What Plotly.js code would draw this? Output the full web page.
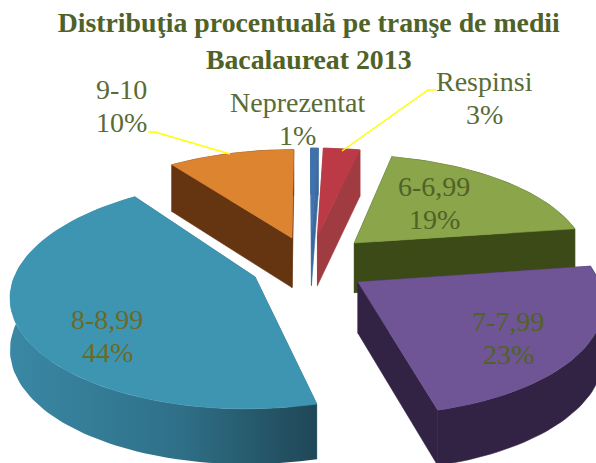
<!DOCTYPE html>
<html>
<head>
<meta charset="utf-8">
<script src="https://cdn.plot.ly/plotly-3.0.1.min.js"></script>
<style>html,body{margin:0;padding:0;background:#fff}#c{width:596px;height:463px}</style>
</head>
<body>
<div id="c"></div>
<script>
// Data, clockwise from 12 o'clock
var categories = ['Neprezentat', 'Respinsi', '6-6,99', '7-7,99', '8-8,99', '9-10'];
var values = [0.6, 2.9, 19.2, 23.3, 44.0, 10.0];
var titleText = 'Distribuţia procentuală pe tranşe de medii<br>Bacalaureat 2013';

// Styles
var topColors = ['#3f72ab', '#bb3a46', '#8aa54a', '#6f5595', '#3e95b1', '#dd8430'];
var wallColors = ['#3a6a9f', '#a03b42', '#3c4a18', '#322344', '#2c6a82', '#653411'];
var labelColors = ['#5a6b35', '#5a6b35', '#4f6228', '#4f6228', '#6b6a28', '#5a6b35'];

// Projection of the tilted disc
var cx = 305, cy = 250, Rx = 235.5, Ry = 105, k = 0.15, depth = 50;
// Wedge apex after explosion and wedge radius, disc units
var pullU = [0.028, 0.054, 0.2116, 0.215, -0.204, -0.056];
var pullV = [0.136, 0.136, 0.0674, -0.2917, -0.248, 0.116];
var radius = [1, 1, 0.98, 0.98, 0.985, 1];
var labelX = [297, 484, 434, 508, 107, 121];
var labelY = [119, 98, 203, 338, 336, 106];
var lineGap = 16.5;
var drawOrder = [5, 0, 1, 2, 3, 4];

function project(u, v, drop) {
  var p = 1 / (1 + k * v);
  return [cx + Rx * u * p, cy - Ry * v * p + (drop ? depth * Math.sqrt(p) : 0)];
}
var total = values.reduce(function (a, b) { return a + b; }, 0);
var angles = [0];
values.forEach(function (v, i) { angles.push(angles[i] + v / total * 2 * Math.PI); });

function arc(i, drop) {
  var pts = [], n = Math.max(4, Math.ceil((angles[i + 1] - angles[i]) / 0.03));
  for (var j = 0; j <= n; j++) {
    var t = angles[i] + (angles[i + 1] - angles[i]) * j / n;
    pts.push(project(pullU[i] + radius[i] * Math.sin(t), pullV[i] + radius[i] * Math.cos(t), drop));
  }
  return pts;
}
function poly(pts, color, name, extra) {
  var t = {
    type: 'scatter', mode: 'lines', name: name, hoverinfo: 'skip', showlegend: false,
    x: pts.map(function (q) { return q[0]; }).concat([pts[0][0]]),
    y: pts.map(function (q) { return q[1]; }).concat([pts[0][1]]),
    fill: 'toself', fillcolor: color, line: { color: color, width: 0.6 }
  };
  return Object.assign(t, extra || {});
}
var traces = [];
drawOrder.forEach(function (i) {
  var top = arc(i, false), bot = arc(i, true);
  var a0 = project(pullU[i], pullV[i], false), a1 = project(pullU[i], pullV[i], true);
  var last = top.length - 1;
  traces.push(poly([a0, top[0], bot[0], a1], wallColors[i], categories[i] + ' side'));
  traces.push(poly([a0, top[last], bot[last], a1], wallColors[i], categories[i] + ' side'));
  var rimExtra = {};
  if (categories[i] === '8-8,99') {
    rimExtra = { line: { color: 'rgba(0,0,0,0)', width: 0 }, fillgradient: { type: 'horizontal', colorscale: [[0, '#3a88a5'], [0.55, '#2f7088'], [1, '#1f4756']] } };
  }
  traces.push(poly(top.concat(bot.slice().reverse()), wallColors[i], categories[i] + ' rim', rimExtra));
  traces.push(poly([a0].concat(top), topColors[i], categories[i]));
});

var annotations = [];
categories.forEach(function (c, i) {
  [c, Math.round(values[i]) + '%'].forEach(function (line, n) {
    annotations.push({
      x: labelX[i], y: labelY[i] + (n ? lineGap : -lineGap), xref: 'x', yref: 'y', showarrow: false,
      text: line, align: 'center',
      font: { family: 'Liberation Serif', size: 28, color: labelColors[i] }
    });
  });
});

var leader = function (xs, ys) {
  var d = 'M' + xs[0] + ',' + ys[0];
  for (var i = 1; i < xs.length; i++) d += 'L' + xs[i] + ',' + ys[i];
  return { type: 'path', xref: 'x', yref: 'y', path: d, line: { color: '#ffff00', width: 1.5 } };
};

var layout = {
  width: 596, height: 463,
  margin: { l: 0, r: 0, t: 0, b: 0 },
  paper_bgcolor: '#ffffff', plot_bgcolor: '#ffffff',
  showlegend: false,
  title: {
    text: titleText, x: 0.518, xanchor: 'center', y: 0.93, yanchor: 'top',
    font: { family: 'Liberation Serif', size: 27.8, color: '#4f6228', weight: 'bold' }
  },
  xaxis: { range: [0, 596], visible: false, fixedrange: true },
  yaxis: { range: [463, 0], visible: false, fixedrange: true },
  annotations: annotations,
  shapes: [leader([342, 428, 436], [151, 90, 90]), leader([148, 155, 230], [132, 132, 154])]
};
Plotly.newPlot('c', traces, layout, { displayModeBar: false, staticPlot: true });
</script>
</body>
</html>
